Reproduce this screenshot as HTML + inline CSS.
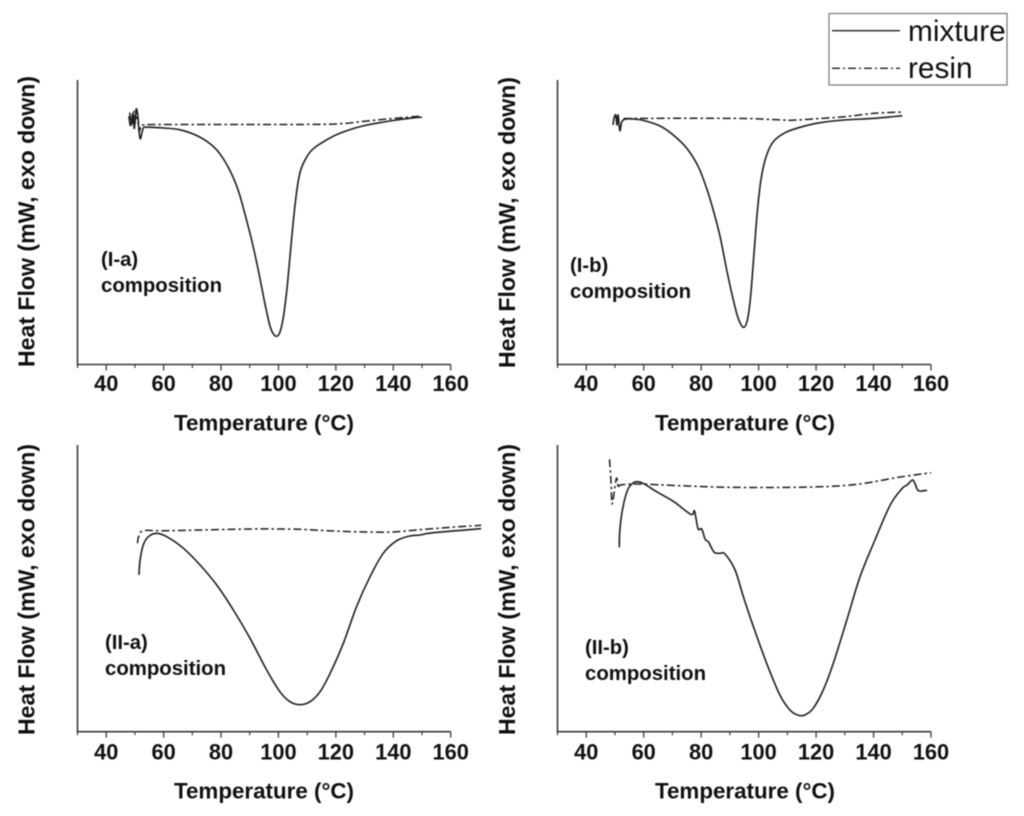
<!DOCTYPE html>
<html>
<head>
<meta charset="utf-8">
<title>DSC heat flow curves</title>
<style>
html,body{margin:0;padding:0;background:#fff;}
svg{display:block;filter:blur(0.5px);}
text{font-family:"Liberation Sans",sans-serif;fill:#111;}
.tick{font-size:21.8px;font-weight:bold;text-anchor:middle;}
.xt{font-size:22.2px;font-weight:bold;}
.yt{font-size:23px;font-weight:bold;}
.ann{font-size:20.3px;font-weight:bold;}
.leg{font-size:29.8px;}
</style>
</head>
<body>
<svg id="figure" xmlns="http://www.w3.org/2000/svg" width="1024" height="816" viewBox="0 0 1024 816">
  <rect x="0" y="0" width="1024" height="816" fill="#ffffff"/>

  <g id="panel-a">
    <text class="yt" transform="translate(34.5,367) rotate(-90)" textLength="291" lengthAdjust="spacingAndGlyphs">Heat Flow (mW, exo down)</text>
    <text class="xt" x="174" y="430.5" textLength="180" lengthAdjust="spacingAndGlyphs">Temperature (°C)</text>
    <text class="ann" x="101" y="266">(I-a)</text>
    <text class="ann" x="101" y="292" textLength="121" lengthAdjust="spacingAndGlyphs">composition</text>
  </g>
  <g id="panel-b">
    <text class="yt" transform="translate(515,368) rotate(-90)" textLength="291" lengthAdjust="spacingAndGlyphs">Heat Flow (mW, exo down)</text>
    <text class="xt" x="655" y="430.5" textLength="180" lengthAdjust="spacingAndGlyphs">Temperature (°C)</text>
    <text class="ann" x="570" y="272">(I-b)</text>
    <text class="ann" x="570" y="298" textLength="121" lengthAdjust="spacingAndGlyphs">composition</text>
  </g>
  <g id="panel-c">
    <text class="yt" transform="translate(34.5,735) rotate(-90)" textLength="291" lengthAdjust="spacingAndGlyphs">Heat Flow (mW, exo down)</text>
    <text class="xt" x="174" y="798.5" textLength="180" lengthAdjust="spacingAndGlyphs">Temperature (°C)</text>
    <text class="ann" x="105" y="649">(II-a)</text>
    <text class="ann" x="105" y="675" textLength="121" lengthAdjust="spacingAndGlyphs">composition</text>
  </g>
  <g id="panel-d">
    <text class="yt" transform="translate(515,735) rotate(-90)" textLength="291" lengthAdjust="spacingAndGlyphs">Heat Flow (mW, exo down)</text>
    <text class="xt" x="655" y="798.5" textLength="180" lengthAdjust="spacingAndGlyphs">Temperature (°C)</text>
    <text class="ann" x="585" y="654">(II-b)</text>
    <text class="ann" x="585" y="680" textLength="121" lengthAdjust="spacingAndGlyphs">composition</text>
  </g>

  <g id="legend">
    <rect x="829" y="13.5" width="178" height="71.5" fill="#fff" stroke="#777" stroke-width="1.2"/>
    <line x1="832" y1="30.7" x2="900" y2="30.7" stroke="#222" stroke-width="1.4"/>
    <text class="leg" x="908" y="41">mixture</text>
    <line x1="832" y1="68.3" x2="900" y2="68.3" stroke="#222" stroke-width="1.3" stroke-dasharray="8 3 2 3"/>
    <text class="leg" x="908" y="78">resin</text>
  </g>
</svg>

<script>
var majorTicks = [40, 60, 80, 100, 120, 140, 160];
var minorTicks = [30, 50, 70, 90, 110, 130, 150];
var tickLabels = ["40", "60", "80", "100", "120", "140", "160"];

var iaMixtureTemp = [47.9,48.5,49.3,49.8,50.4,51,51.8,52.9,54.5,60,65.7,71.5,76.2,79.6,83.1,86,88.3,90.7,93,95.3,97,98.2,99.4,100.5,101.7,102.9,104,105.2,106.4,107.7,109.8,112.1,116.8,121.4,130,140,147,150];
var iaMixtureFlow = [24.83,23.9,25.1,23.6,25.5,24.9,22.6,23.63,23.73,23.65,23.47,22.9,22.07,21.07,19.4,17.4,15.07,12.4,9.4,6.07,3.9,3.07,2.83,3.23,4.73,7.4,10.73,14.4,17.4,19.4,20.73,21.57,22.47,23.13,23.9,24.4,24.67,24.73];
var iaResinTemp = [48.2,48.8,49.6,50.2,50.8,51.4,52,52.8,60,80,100,120,130,140,150];
var iaResinFlow = [25.2,23.8,25.3,24.2,25.2,23.4,23.7,23.95,24,24,24,24.05,24.33,24.6,24.85];

var ibMixtureTemp = [49.3,49.7,50.3,50.7,51.1,51.7,52.4,53.8,56.2,60,65.7,70.3,75,79,81.9,84.2,86.6,88.9,91.2,92.9,94.7,96.1,97.2,98.4,99.5,100.8,102.6,105.1,109.2,114.4,121.4,129.8,140.4,150];
var ibMixtureFlow = [23.95,24.65,24.95,23.95,24.95,23.38,24.28,24.55,24.55,24.4,23.85,22.95,21.62,19.78,17.62,15.45,12.78,9.45,6.45,4.62,3.72,4.45,6.78,11.12,15.12,18.45,20.78,22.28,23.18,23.72,24.18,24.45,24.62,24.88];
var ibResinTemp = [53,70,95,108.4,111.4,120.3,130,140.4,150];
var ibResinFlow = [24.6,24.62,24.6,24.45,24.42,24.58,24.78,25.12,25.25];

var iiaMixtureTemp = [51.4,51.8,52.9,54.7,57.6,61.1,66.9,72.7,78.5,84.3,90.1,95.9,100.5,104,107.5,111,114.5,118,122.6,127.2,131.9,136.5,141.2,145.8,149.3,154,170.6];
var iiaMixtureFlow = [15.67,17.17,18.67,19.5,19.84,19.5,18.34,16.67,14.67,12.17,9.34,6.17,4,3,2.7,3,4,5.84,8.84,12.5,15.5,17.84,19.1,19.57,19.67,19.9,20.3];
var iiaResinTemp = [50.9,51.3,53,61,90,99.4,107.5,119,130.8,140,148,160,170.6];
var iiaResinFlow = [18.84,19.5,20.1,20.1,20.27,20.27,20.24,20.07,19.97,19.97,20.17,20.44,20.64];

var iibMixtureTemp = [51.5,51.7,52.7,54.4,56.2,57.6,59.8,64.5,70.5,76.4,77.6,78.2,79,80.2,81.4,82.5,83.5,84.7,86.6,88.3,91.8,94.7,98.2,102.8,107.4,110.9,113.8,116.1,119,122.5,126,130.7,135.3,140.5,145.8,150,151.7,153.5,154.4,155.6,158.6];
var iibMixtureFlow = [18.44,20.17,22.34,24.17,24.84,25,24.84,24,23,21.74,22.1,21.34,20.24,20.27,19.24,19,18.44,17.9,17.84,17.77,16.17,13.5,10.5,6.84,3.67,2.17,1.64,1.67,2.34,4.17,6.84,11.17,15.5,19.17,22.67,24.34,24.67,25.17,24.84,24.1,24.14];
var iibResinTemp = [48.1,48.6,48.9,49.3,50.5,51.2,52,58.6,72.8,89.4,113,127.4,136.9,148.7,160];
var iibResinFlow = [27.24,25.17,23,23.1,25.34,24.37,24.67,24.77,24.6,24.44,24.44,24.57,24.84,25.44,25.9];

var NS = "http://www.w3.org/2000/svg";

function makeXScale(left, right) {
  return function (t) { return left + (t - 30) * (right - left) / 130; };
}
function makeYScale(bottom, top) {
  return function (v) { return bottom - v * 10; };
}

function smoothPath(pts) {
  var d = "M" + pts[0][0].toFixed(2) + " " + pts[0][1].toFixed(2);
  var k = 1 / 6;
  for (var i = 0; i < pts.length - 1; i++) {
    var p0 = pts[Math.max(i - 1, 0)], p1 = pts[i], p2 = pts[i + 1], p3 = pts[Math.min(i + 2, pts.length - 1)];
    var c1x = p1[0] + (p2[0] - p0[0]) * k, c1y = p1[1] + (p2[1] - p0[1]) * k;
    var c2x = p2[0] - (p3[0] - p1[0]) * k, c2y = p2[1] - (p3[1] - p1[1]) * k;
    d += "C" + c1x.toFixed(2) + " " + c1y.toFixed(2) + " " + c2x.toFixed(2) + " " + c2y.toFixed(2) + " " + p2[0].toFixed(2) + " " + p2[1].toFixed(2);
  }
  return d;
}

function seriesPoints(temps, flows, x, y) {
  var out = [];
  for (var i = 0; i < temps.length; i++) {
    out.push([x(temps[i]), y(flows[i])]);
  }
  return out;
}

function drawAxes(group, key, x, left, right, top, bottom, labelY) {
  var yAxis = document.createElementNS(NS, "line");
  
  
  yAxis.setAttribute("x1", left); yAxis.setAttribute("x2", left);
  yAxis.setAttribute("y1", top); yAxis.setAttribute("y2", bottom + 0.7);
  yAxis.setAttribute("stroke", "#3a3a3a"); yAxis.setAttribute("stroke-width", "1.6");
  group.appendChild(yAxis);

  var xAxis = document.createElementNS(NS, "line");
  
  
  xAxis.setAttribute("x1", left); xAxis.setAttribute("x2", right);
  xAxis.setAttribute("y1", bottom); xAxis.setAttribute("y2", bottom);
  xAxis.setAttribute("stroke", "#3a3a3a"); xAxis.setAttribute("stroke-width", "1.6");
  group.appendChild(xAxis);

  majorTicks.forEach(function (t, i) {
    var tick = document.createElementNS(NS, "line");
    
    
    tick.setAttribute("x1", x(t)); tick.setAttribute("x2", x(t));
    tick.setAttribute("y1", bottom); tick.setAttribute("y2", bottom + 6);
    tick.setAttribute("stroke", "#3a3a3a"); tick.setAttribute("stroke-width", "1.3");
    group.appendChild(tick);

    var label = document.createElementNS(NS, "text");
    
    
    label.setAttribute("class", "tick");
    label.setAttribute("x", x(t));
    label.setAttribute("y", labelY);
    label.textContent = tickLabels[i];
    group.appendChild(label);
  });
  minorTicks.forEach(function (t) {
    var tick = document.createElementNS(NS, "line");
    
    
    tick.setAttribute("x1", x(t)); tick.setAttribute("x2", x(t));
    tick.setAttribute("y1", bottom); tick.setAttribute("y2", bottom + 3.5);
    tick.setAttribute("stroke", "#3a3a3a"); tick.setAttribute("stroke-width", "1.2");
    group.appendChild(tick);
  });
}

function drawCurve(group, name, temps, flows, x, y, dashed) {
  var p = document.createElementNS(NS, "path");
  
  
  p.setAttribute("d", smoothPath(seriesPoints(temps, flows, x, y)));
  p.setAttribute("fill", "none");
  p.setAttribute("stroke", "#1e1e1e");
  p.setAttribute("stroke-linejoin", "round");
  p.setAttribute("stroke-width", dashed ? "1.5" : "1.6");
  if (dashed) { p.setAttribute("stroke-dasharray", "8 3 2.5 3"); }
  group.appendChild(p);
}

function drawPanel(id, key, left, right, top, bottom, labelY, mt, mf, rt, rf) {
  var group = document.getElementById(id);
  var x = makeXScale(left, right);
  var y = makeYScale(bottom, top);
  drawAxes(group, key, x, left, right, top, bottom, labelY);
  drawCurve(group, "resin-curve-" + key, rt, rf, x, y, true);
  drawCurve(group, "mixture-curve-" + key, mt, mf, x, y, false);
}

drawPanel("panel-a", "i-a", 77.5, 450.7, 80, 364.5, 391, iaMixtureTemp, iaMixtureFlow, iaResinTemp, iaResinFlow);
drawPanel("panel-b", "i-b", 557.5, 931, 80, 364.5, 391, ibMixtureTemp, ibMixtureFlow, ibResinTemp, ibResinFlow);
drawPanel("panel-c", "ii-a", 77.5, 450.7, 445, 731.7, 759.5, iiaMixtureTemp, iiaMixtureFlow, iiaResinTemp, iiaResinFlow);
drawPanel("panel-d", "ii-b", 557.5, 931, 445, 731.7, 759.5, iibMixtureTemp, iibMixtureFlow, iibResinTemp, iibResinFlow);
</script>
</body>
</html>
